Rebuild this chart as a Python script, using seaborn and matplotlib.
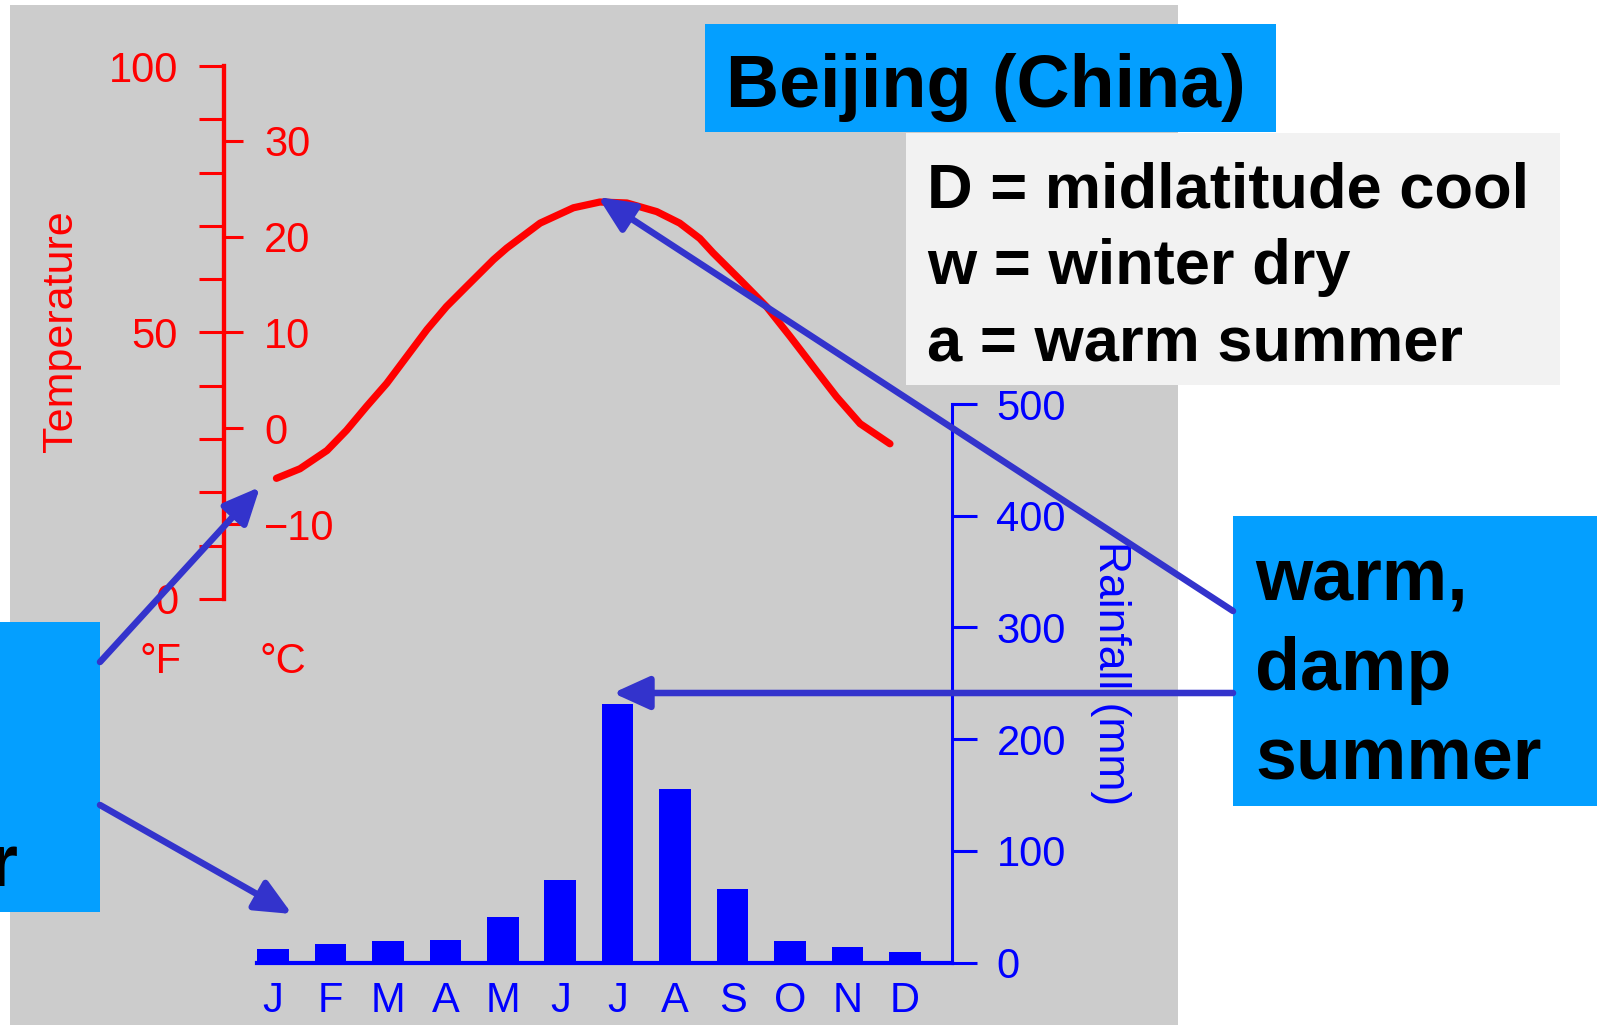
import numpy as np
import pandas as pd
import matplotlib
matplotlib.use('Agg')
import matplotlib.pyplot as plt
import seaborn as sns
from matplotlib.patches import Rectangle, FancyArrowPatch

# dados do climograma
months = ['Jan', 'Feb', 'Mar', 'Apr', 'May', 'Jun', 'Jul', 'Aug', 'Sep', 'Oct', 'Nov', 'Dec']
month_letters = ['J', 'F', 'M', 'A', 'M', 'J', 'J', 'A', 'S', 'O', 'N', 'D']
rain_mm = [12, 17, 19, 20, 41, 74, 231, 155, 66, 19, 14, 9]

# curva de temperatura (posicao no eixo dos meses, graus C)
curve_pos = [0.06, 0.47, 0.94, 1.28, 1.63, 1.98, 2.33, 2.68, 3.02, 3.37, 3.84,
             4.07, 4.65, 5.23, 5.69, 6.16, 6.68, 7.08, 7.43, 7.66, 8.13, 8.59, 9.00,
             9.41, 9.81, 10.22, 10.74]
curve_temp = [-5.2, -4.2, -2.3, -0.2, 2.3, 4.7, 7.5, 10.3, 12.7, 14.8, 17.6,
              18.8, 21.4, 23.0, 23.6, 23.5, 22.6, 21.4, 19.8, 18.3, 15.5, 12.7, 9.6,
              6.4, 3.3, 0.5, -1.6]

celsius_ticks = [-10, 0, 10, 20, 30]
fahrenheit_ticks = list(range(0, 101, 10))
fahrenheit_labels = ['0', '', '', '', '', '50', '', '', '', '', '100']
rain_ticks = [0, 100, 200, 300, 400, 500]

title_text = 'Beijing (China)'
def_lines = ['D = midlatitude cool', 'w = winter dry', 'a = warm summer']
right_note = ['warm,', 'damp', 'summer']
left_note = ['cold,', 'dry', 'winter']

RED = '#FF0000'
BLUE = '#0000FF'
ARROW = '#3333CC'
BOX_BLUE = '#049FFF'

sns.set_style('white')
plt.rcParams['font.family'] = ['Liberation Sans', 'DejaVu Sans']

W, H = 1597, 1025
fig = plt.figure(figsize=(W / 100, H / 100), dpi=100)
fig.patch.set_facecolor('white')


def fx(x):
    return x / W


def fy(y):
    return 1 - y / H


def rect(x0, y0, x1, y1, color, z):
    r = Rectangle((fx(x0), fy(y1)), fx(x1) - fx(x0), (y1 - y0) / H,
                  transform=fig.transFigure, facecolor=color, edgecolor='none', zorder=z)
    fig.add_artist(r)


# fundo cinzento do grafico
rect(10, 5, 1178, 1025, '#CCCCCC', -1)

xlim = (-0.853, 11.82)

# eixo da temperatura
ax_t = fig.add_axes([fx(224), fy(599), fx(952) - fx(224), (599 - 66) / H])
ax_t.set_facecolor('none')
sns.lineplot(x=curve_pos, y=curve_temp, ax=ax_t, color=RED, linewidth=5.2, sort=False)
ax_t.lines[0].set_solid_capstyle('round')
ax_t.lines[0].set_solid_joinstyle('round')
ax_t.set_xlim(xlim)
ax_t.set_ylim((0 - 32) / 1.8, (100 - 32) / 1.8)
ax_t.set_xticks([])
for s in ['left', 'top', 'bottom']:
    ax_t.spines[s].set_visible(False)
ax_t.yaxis.tick_right()
ax_t.spines['right'].set_position(('axes', 0))
ax_t.spines['right'].set_color(RED)
ax_t.spines['right'].set_linewidth(3)
ax_t.set_yticks(celsius_ticks)
ax_t.tick_params(axis='y', colors=RED, length=14, width=2.2, labelsize=30, pad=15, direction='out')

sec = ax_t.secondary_yaxis('left', functions=(lambda c: c * 1.8 + 32, lambda f: (f - 32) / 1.8))
sec.set_yticks(fahrenheit_ticks)
sec.set_yticklabels(fahrenheit_labels)
sec.spines['left'].set_color(RED)
sec.spines['left'].set_linewidth(3)
sec.tick_params(axis='y', colors=RED, length=18, width=2.2, labelsize=30, pad=15, direction='out')

fig.text(fx(61), fy(331), 'Temperature', rotation=90, color=RED, fontsize=31, ha='center', va='center')
fig.text(fx(160), fy(662), '°F', color=RED, fontsize=30, ha='center', va='center')
fig.text(fx(283), fy(662), '°C', color=RED, fontsize=30, ha='center', va='center')

# eixo da chuva
ax_r = fig.add_axes([fx(224), fy(962.5), fx(952) - fx(224), (962.5 - 404) / H])
ax_r.set_facecolor('none')
df = pd.DataFrame({'month': months, 'rain': rain_mm})
sns.barplot(data=df, x='month', y='rain', ax=ax_r, color=BLUE, saturation=1, width=0.55, linewidth=0)
ax_r.set_xlim(xlim)
ax_r.set_ylim(0, 500)
ax_r.set_xlabel('')
ax_r.set_ylabel('')
ax_r.set_xticks(range(12))
ax_r.set_xticklabels(month_letters)
ax_r.set_yticks(rain_ticks)
ax_r.yaxis.tick_right()
for s in ['left', 'top']:
    ax_r.spines[s].set_visible(False)
ax_r.spines['right'].set_color(BLUE)
ax_r.spines['right'].set_linewidth(2.2)
ax_r.spines['bottom'].set_color(BLUE)
ax_r.spines['bottom'].set_linewidth(3)
ax_r.spines['bottom'].set_bounds(-0.28, xlim[1])
ax_r.tick_params(axis='y', colors=BLUE, length=18, width=2.2, labelsize=30, pad=14, direction='out')
ax_r.tick_params(axis='x', colors=BLUE, length=0, labelsize=30, pad=13)
fig.text(fx(1110), fy(673), 'Rainfall (mm)', rotation=270, color=BLUE, fontsize=32, ha='center', va='center')

# caixas de texto
rect(705, 24, 1276, 132, BOX_BLUE, 1)
fig.text(fx(726), fy(107), title_text, fontsize=53, fontweight='bold', color='black', zorder=3)

rect(906, 133, 1560, 385, '#F2F2F2', 1)
for i, line in enumerate(def_lines):
    fig.text(fx(927), fy(207 + 77 * i), line, fontsize=45.5, fontweight='bold', color='black', zorder=3)

rect(1233, 516, 1597, 806, BOX_BLUE, 1)
for i, line in enumerate(right_note):
    fig.text(fx(1255), fy(601 + 89 * i), line, fontsize=53, fontweight='bold', color='black', zorder=3)

rect(0, 622, 100, 912, BOX_BLUE, 1)
for i, line in enumerate(left_note):
    fig.text(fx(-199), fy(707 + 89 * i), line, fontsize=53, fontweight='bold', color='black', zorder=3)


# setas
def arrow(x0, y0, x1, y1):
    a = FancyArrowPatch((fx(x0), fy(y0)), (fx(x1), fy(y1)), transform=fig.transFigure,
                        arrowstyle='-|>,head_length=2.2,head_width=1.0', mutation_scale=10,
                        color=ARROW, linewidth=4.7, shrinkA=0, shrinkB=0, zorder=4)
    fig.add_artist(a)


arrow(1233, 611, 598, 197)
arrow(1233, 693, 613, 693)
arrow(100, 662, 260, 487)
arrow(100, 805, 292, 914)

fig.savefig('out.png', dpi=100)
